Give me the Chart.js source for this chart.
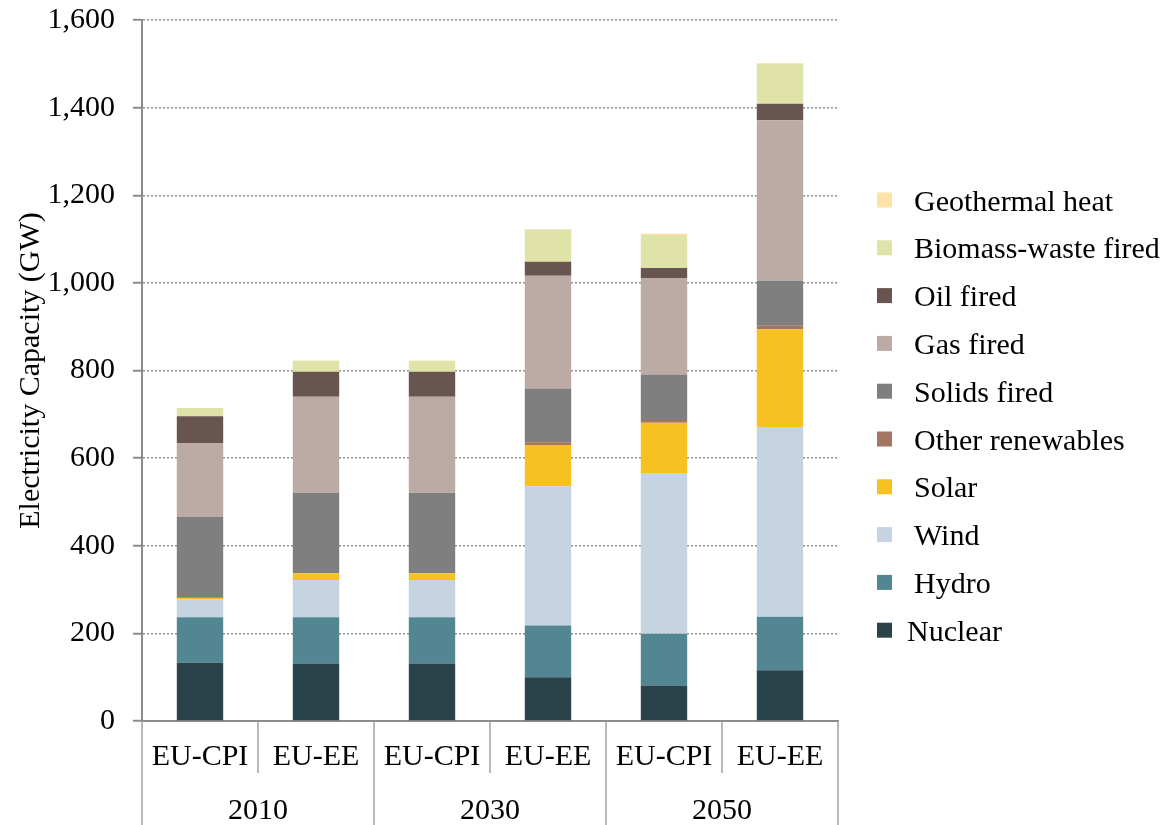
<!DOCTYPE html>
<html>
<head>
<meta charset="utf-8">
<title>Electricity Capacity</title>
<script src="https://cdn.jsdelivr.net/npm/chart.js@4.4.1/dist/chart.umd.min.js"></script>
<style>
html,body{margin:0;padding:0;background:#fff}
#wrap{width:1169px;height:825px;position:relative}
</style>
</head>
<body>
<div id="wrap"><canvas id="chart"></canvas></div>
<script>
// categories
const scenarios = ['EU-CPI','EU-EE','EU-CPI','EU-EE','EU-CPI','EU-EE'];
const years = ['2010','2030','2050'];

// GW (bottom to top of each stack)
const nuclear    = [133, 131, 131, 100,  81, 116];
const hydro      = [104, 106, 106, 118, 118, 122];
const wind       = [ 41,  85,  85, 318, 367, 433];
const solar      = [  3,  15,  15,  94, 115, 223];
const otherRenew = [0.5,   1,   1,   6,   6,   8];
const solids     = [184, 183, 183, 123, 104, 103];
const gas        = [169, 219, 219, 257, 220, 366];
const oil        = [ 61,  57,  57,  32,  23,  38];
const biomass    = [ 19,  25,  25,  74,  75,  91];
const geothermal = [  0,   1,   1,   1,   3,   2];

const yMax = 1600, yStep = 200;

const FONT = '"Liberation Serif", "Times New Roman", serif';

const series = [
  ['Nuclear', nuclear, '#2a434a'],
  ['Hydro', hydro, '#518692'],
  ['Wind', wind, '#c5d4e0'],
  ['Solar', solar, '#f7c221'],
  ['Other renewables', otherRenew, '#a57462'],
  ['Solids fired', solids, '#7f7f7f'],
  ['Gas fired', gas, '#bcaba4'],
  ['Oil fired', oil, '#69554f'],
  ['Biomass-waste fired', biomass, '#dfe3a8'],
  ['Geothermal heat', geothermal, '#fde3a6']
];

// two-row category table under the x axis + legend on the right
const tablePlugin = {
  id: 'tableAndLegend',
  afterDraw(chart){
    const {ctx, chartArea: a, scales: {x}} = chart;
    const n = scenarios.length;
    const step = (a.right - a.left) / n;
    ctx.save();
    ctx.strokeStyle = '#a0a0a0';
    ctx.lineWidth = 1.5;
    for (let i = 0; i <= n; i++) {
      const px = Math.round(a.left + i * step);
      ctx.beginPath();
      ctx.moveTo(px, a.bottom);
      ctx.lineTo(px, i % 2 === 0 ? chart.height : a.bottom + 52);
      ctx.stroke();
    }
    ctx.fillStyle = '#000';
    ctx.font = '30px ' + FONT;
    ctx.textAlign = 'center';
    ctx.textBaseline = 'alphabetic';
    scenarios.forEach((s, i) => ctx.fillText(s, x.getPixelForValue(i), a.bottom + 44));
    years.forEach((yr, g) => {
      const cx = (x.getPixelForValue(2 * g) + x.getPixelForValue(2 * g + 1)) / 2;
      ctx.fillText(yr, cx, a.bottom + 98);
    });

    // legend, top item = last series
    const bx = a.right + 39, tx = a.right + 76;
    ctx.textAlign = 'left';
    series.slice().reverse().forEach((s, i) => {
      const cy = 200 + i * 47.8;
      ctx.fillStyle = s[2];
      ctx.fillRect(bx, cy - 7.5, 15, 15);
      ctx.fillStyle = '#000';
      ctx.fillText(s[0], s[0] === 'Nuclear' ? tx - 7 : tx, cy + 10.5);
    });
    ctx.restore();
  }
};

new Chart(document.getElementById('chart'), {
  type: 'bar',
  data: {
    labels: scenarios,
    datasets: series.map(s => ({
      label: s[0],
      data: s[1],
      backgroundColor: s[2],
      borderWidth: 0,
      categoryPercentage: 1,
      barPercentage: 0.4
    }))
  },
  options: {
    responsive: true,
    maintainAspectRatio: false,
    animation: false,
    layout: {padding: {left: 0, top: 20, right: 331, bottom: 104}},
    plugins: {legend: {display: false}, tooltip: {enabled: false}},
    scales: {
      x: {
        stacked: true,
        grid: {display: false, drawTicks: false},
        ticks: {display: false},
        border: {display: true, color: '#8c8c8c', width: 2}
      },
      y: {
        stacked: true,
        min: 0,
        max: yMax,
        afterFit(scale){
          scale.width = 142;
          scale.paddingTop = 0;
          scale.paddingBottom = 0;
        },
        ticks: {
          stepSize: yStep,
          padding: 18,
          color: '#000',
          font: {family: FONT, size: 30},
          callback: v => v.toLocaleString('en-US')
        },
        grid: {
          color: '#8f8f8f',
          lineWidth: 1.5,
          tickLength: 9,
          tickColor: '#8c8c8c',
          tickWidth: 2,
          tickBorderDash: []
        },
        border: {display: true, color: '#8c8c8c', width: 2, dash: [2, 2]},
        title: {
          display: true,
          text: 'Electricity Capacity (GW)',
          color: '#000',
          font: {family: FONT, size: 30},
          padding: {top: 13, bottom: 0}
        }
      }
    }
  },
  plugins: [tablePlugin]
});
</script>
</body>
</html>
